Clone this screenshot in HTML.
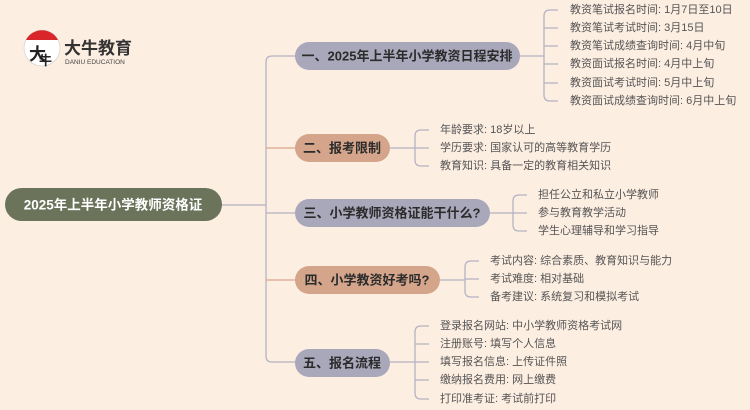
<!DOCTYPE html>
<html><head><meta charset="utf-8"><style>
body{margin:0;background:#fdeee2;}
svg{display:block;font-family:"Liberation Sans","Noto Sans CJK SC",sans-serif;}
.l{fill:#555;font-size:11px;dominant-baseline:central}
.n{font-size:13px;font-weight:bold;fill:#2b2b2b;dominant-baseline:central}
</style></head><body>
<svg width="750" height="410" viewBox="0 0 750 410">
<rect width="750" height="410" fill="#fdeee2"/>
<circle cx="42" cy="48" r="18" fill="#fff" stroke="#ccc" stroke-width="0.6"/>
<path d="M26 40 A18 18 0 0 1 58 40 Z" fill="#d8262b"/>
<text x="29" y="60" font-size="17" font-weight="bold" fill="#222">大</text>
<text x="39" y="65" font-size="13" font-weight="bold" fill="#222">牛</text>
<text x="64" y="54" font-size="17" font-weight="bold" fill="#333">大牛教育</text>
<text x="65" y="64" font-size="6.5" fill="#444">DANIU EDUCATION</text>
<g fill="none" stroke-width="1.3">
<path d="M222 205 H266" stroke="#b4b3c3"/>
<path d="M295 56 H272 Q266 56 266 62 V356 Q266 362 272 362 H295" stroke="#b4b3c3"/>
<path d="M266 148 H295" stroke="#d8a88e"/>
<path d="M266 280 H295" stroke="#d8a88e"/>
<path d="M266 213 H295" stroke="#b4b3c3"/>
<g stroke="#b4b3c3">
<path d="M520 56 H544 M558 10 H550 Q544 10 544 16 V95 Q544 101 550 101 H558 M544 28 H558 M544 46 H558 M544 64 H558 M544 83 H558"/>
<path d="M390 148 H415 M429 130 H421 Q415 130 415 136 V160 Q415 166 421 166 H429 M415 148 H429"/>
<path d="M490 213 H513 M527 195 H519 Q513 195 513 201 V225 Q513 231 519 231 H527 M513 213 H527"/>
<path d="M440 280 H465 M479 261 H471 Q465 261 465 267 V291 Q465 297 471 297 H479 M465 279 H479"/>
<path d="M390 362 H415 M429 326 H421 Q415 326 415 332 V393 Q415 399 421 399 H429 M415 344 H429 M415 362 H429 M415 380 H429"/>
</g>
</g>
<rect x="5" y="188" width="217" height="33" rx="16.5" fill="#6b735a"/>
<text x="113" y="205" text-anchor="middle" font-size="13.5" font-weight="bold" fill="#fff" dominant-baseline="central">2025年上半年小学教师资格证</text>
<rect x="295" y="42" width="225" height="28" rx="14" fill="#a9a7ba"/>
<text class="n" x="407" y="56" text-anchor="middle">一、2025年上半年小学教资日程安排</text>
<rect x="295" y="134" width="95" height="28" rx="14" fill="#d4a58b"/>
<text class="n" x="342" y="148" text-anchor="middle">二、报考限制</text>
<rect x="295" y="199" width="195" height="28" rx="14" fill="#a9a7ba"/>
<text class="n" x="392" y="213" text-anchor="middle">三、小学教师资格证能干什么?</text>
<rect x="295" y="266" width="145" height="28" rx="14" fill="#d4a58b"/>
<text class="n" x="367" y="280" text-anchor="middle">四、小学教资好考吗?</text>
<rect x="295" y="349" width="95" height="28" rx="14" fill="#a9a7ba"/>
<text class="n" x="342" y="363" text-anchor="middle">五、报名流程</text>
<g>
<text class="l" x="570" y="10">教资笔试报名时间: 1月7日至10日</text>
<text class="l" x="570" y="28">教资笔试考试时间: 3月15日</text>
<text class="l" x="570" y="46">教资笔试成绩查询时间: 4月中旬</text>
<text class="l" x="570" y="64">教资面试报名时间: 4月中上旬</text>
<text class="l" x="570" y="83">教资面试考试时间: 5月中上旬</text>
<text class="l" x="570" y="101">教资面试成绩查询时间: 6月中上旬</text>
<text class="l" x="440" y="130">年龄要求: 18岁以上</text>
<text class="l" x="440" y="148">学历要求: 国家认可的高等教育学历</text>
<text class="l" x="440" y="166">教育知识: 具备一定的教育相关知识</text>
<text class="l" x="538" y="195">担任公立和私立小学教师</text>
<text class="l" x="538" y="213">参与教育教学活动</text>
<text class="l" x="538" y="231">学生心理辅导和学习指导</text>
<text class="l" x="490" y="261">考试内容: 综合素质、教育知识与能力</text>
<text class="l" x="490" y="279">考试难度: 相对基础</text>
<text class="l" x="490" y="297">备考建议: 系统复习和模拟考试</text>
<text class="l" x="440" y="326">登录报名网站: 中小学教师资格考试网</text>
<text class="l" x="440" y="344">注册账号: 填写个人信息</text>
<text class="l" x="440" y="362">填写报名信息: 上传证件照</text>
<text class="l" x="440" y="380">缴纳报名费用: 网上缴费</text>
<text class="l" x="440" y="399">打印准考证: 考试前打印</text>
</g>
</svg>
</body></html>
